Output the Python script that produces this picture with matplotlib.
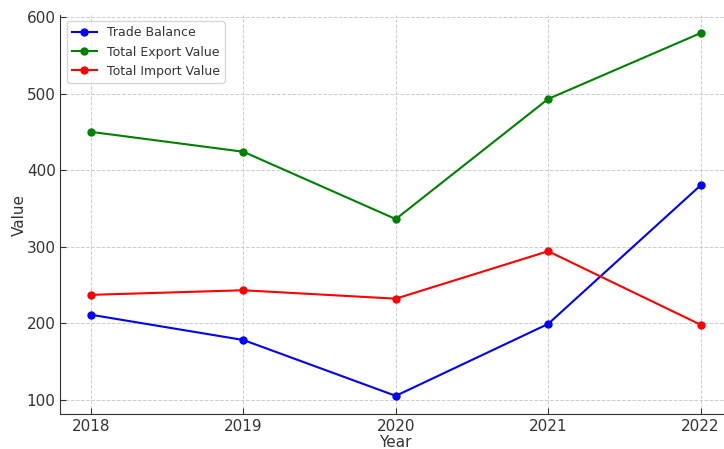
import matplotlib.pyplot as plt

# yearly trade figures
years = [2018, 2019, 2020, 2021, 2022]
trade_balance = [211, 178, 105, 199, 380]
export_value = [450, 424, 336, 493, 579]
import_value = [237, 243, 232, 294, 198]

plt.rcParams['text.color'] = '#333333'
plt.rcParams['axes.labelcolor'] = '#333333'
plt.rcParams['xtick.color'] = '#333333'
plt.rcParams['ytick.color'] = '#333333'

fig = plt.figure(figsize=(7.24, 4.49), dpi=100)
ax = fig.add_axes([60.5 / 724, 35 / 449, 670.5 / 724, 399 / 449])

ax.plot(years, trade_balance, marker='o', color='blue', markersize=5, linewidth=1.5, label='Trade Balance')
ax.plot(years, export_value, marker='o', color='green', markersize=5, linewidth=1.5, label='Total Export Value')
ax.plot(years, import_value, marker='o', color='red', markersize=5, linewidth=1.5, label='Total Import Value')

ax.set_xticks(years)
ax.set_xlabel('Year', fontsize=11, labelpad=1)
ax.set_ylabel('Value', fontsize=11, labelpad=0)
ax.tick_params(labelsize=11, direction='in', length=4)
ax.grid(True, linestyle='--', color='#cccccc', linewidth=0.7)
ax.spines['top'].set_visible(False)
ax.spines['right'].set_visible(False)
for s in ['left', 'bottom']:
    ax.spines[s].set_color('#333333')
ax.legend(loc='upper left', fontsize=9, labelcolor='#333333')

fig.savefig('out.png', dpi=100)
